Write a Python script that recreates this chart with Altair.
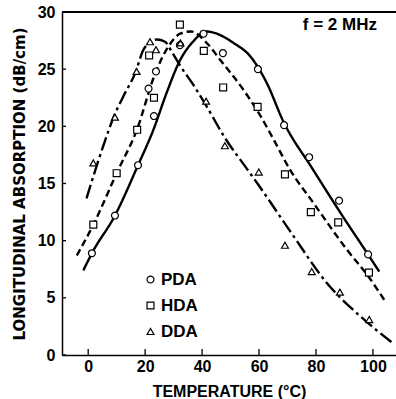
import altair as alt
import pandas as pd

# ---- data ----
series_names = ["PDA", "HDA", "DDA"]

pda_pt_x = [1.3, 9.4, 17.5, 23.1, 21.2, 23.8, 32.2, 40.5, 47.3, 59.6, 68.8, 77.6, 88.1, 98.3]
pda_pt_y = [8.9, 12.2, 16.6, 20.9, 23.3, 24.8, 27.1, 28.1, 26.4, 25.0, 20.1, 17.3, 13.5, 8.8]

hda_pt_x = [1.8, 10.0, 17.2, 23.1, 21.4, 32.2, 40.6, 47.4, 59.5, 69.1, 78.2, 87.8, 98.6]
hda_pt_y = [11.4, 15.9, 19.7, 22.5, 26.2, 28.9, 26.6, 23.4, 21.7, 15.8, 12.5, 11.6, 7.2]

dda_pt_x = [1.8, 9.4, 17.0, 21.7, 23.8, 32.4, 41.4, 48.0, 59.9, 69.1, 78.5, 88.4, 98.7]
dda_pt_y = [16.8, 20.8, 24.8, 27.4, 26.7, 27.3, 22.2, 18.3, 16.0, 9.6, 7.3, 5.5, 3.1]

pda_cv_x = [-1.7, 1.3, 9.4, 17.5, 22.9, 27.5, 32.3, 36.8, 41.5, 44, 51, 57, 62.7, 68.4, 79, 90, 97.2, 102.2]
pda_cv_y = [7.4, 8.9, 12.2, 16.6, 19.7, 22.9, 25.8, 27.4, 28.3, 28.2, 27.3, 26.1, 23.8, 20.5, 16.2, 11.9, 9.2, 7.3]

hda_cv_x = [-4.0, 1.8, 10, 17.1, 23.5, 28.2, 32.3, 36, 41.6, 46.4, 54.5, 60.3, 65, 70.9, 79.1, 90.9, 98.6, 104.3]
hda_cv_y = [8.7, 11.4, 15.9, 19.7, 24.6, 27.0, 28.1, 28.3, 27.3, 25.8, 23.2, 21.0, 18.9, 16.2, 13.3, 9.2, 6.8, 4.7]

dda_cv_x = [-0.6, 6, 8.9, 12.5, 16.4, 19.4, 22, 24.1, 27, 29.4, 32.3, 37, 41.7, 48, 55.7, 60, 72.1, 83.8, 95.5, 107.2]
dda_cv_y = [13.7, 18.8, 20.8, 22.7, 24.6, 26.7, 27.4, 27.6, 27.4, 26.5, 25.3, 23.6, 21.7, 19.0, 16.3, 14.8, 10.4, 6.3, 3.4, 1.0]

x_ticks = [0, 20, 40, 60, 80, 100]
y_ticks = [0, 5, 10, 15, 20, 25, 30]
annotation = "f = 2 MHz"

# ---- tables ----
pts = pd.concat([
    pd.DataFrame({"t": pda_pt_x, "a": pda_pt_y, "s": "PDA"}),
    pd.DataFrame({"t": hda_pt_x, "a": hda_pt_y, "s": "HDA"}),
    pd.DataFrame({"t": dda_pt_x, "a": dda_pt_y, "s": "DDA"}),
])
pts["u"] = pts["s"]
cvs = pd.concat([
    pd.DataFrame({"t": pda_cv_x, "a": pda_cv_y, "c": "PDA"}),
    pd.DataFrame({"t": hda_cv_x, "a": hda_cv_y, "c": "HDA"}),
    pd.DataFrame({"t": dda_cv_x, "a": dda_cv_y, "c": "DDA"}),
])
xt = pd.DataFrame({"v": x_ticks})
yt = pd.DataFrame({"v": y_ticks})

W, H = 334, 343
FONT = "Liberation Sans"

xs = alt.Scale(domain=[-9.2, 108.1], nice=False, zero=False)
ys = alt.Scale(domain=[0, 30], nice=False)
shape_scale = alt.Scale(domain=series_names, range=["circle", "square", "triangle-up"])

x_axis = alt.Axis(values=x_ticks, ticks=False, tickSize=0, grid=False, labelPadding=3,
                  labelFont=FONT, labelFontSize=16, labelFontWeight="bold", labelColor="black",
                  title="TEMPERATURE (°C)", titleFont=FONT, titleFontSize=16, titleFontWeight="bold",
                  titleColor="black", titlePadding=9, domainColor="black", domainWidth=1.5)
y_axis = alt.Axis(values=y_ticks, ticks=False, tickSize=0, grid=False, labelPadding=7,
                  labelFont=FONT, labelFontSize=16, labelFontWeight="bold", labelColor="black",
                  title="LONGITUDINAL ABSORPTION (dB/cm)", titleFont="DejaVu Sans", titleFontSize=15,
                  titleFontWeight="bold", titleColor="black", titlePadding=10,
                  domainColor="black", domainWidth=1.5)

lines = alt.Chart(cvs).mark_line(interpolate="monotone", color="black", strokeWidth=2.4).encode(
    x=alt.X("t:Q", scale=xs, axis=x_axis),
    y=alt.Y("a:Q", scale=ys, axis=y_axis),
    detail="c:N",
    strokeDash=alt.StrokeDash("c:N", scale=alt.Scale(domain=series_names,
                              range=[[1, 0], [7, 4], [14, 4, 3, 4]]), legend=None),
)

# white backing for hollow markers
backing = alt.Chart(pts).mark_point(filled=True, color="white", size=48, opacity=1).encode(
    x=alt.X("t:Q", scale=xs),
    y=alt.Y("a:Q", scale=ys),
    shape=alt.Shape("u:N", scale=shape_scale, legend=None),
)

points = alt.Chart(pts).mark_point(filled=False, color="black", strokeWidth=1.2,
                                   size=48, opacity=1).encode(
    x=alt.X("t:Q", scale=xs),
    y=alt.Y("a:Q", scale=ys),
    shape=alt.Shape("s:N", scale=shape_scale,
                    legend=alt.Legend(title=None, orient="none", legendX=80, legendY=259,
                                      labelFont=FONT, labelFontSize=17, labelFontWeight="bold",
                                      labelColor="black", symbolStrokeColor="black",
                                      symbolFillColor="white", symbolOpacity=1,
                                      symbolStrokeWidth=1.2, symbolSize=48,
                                      rowPadding=8, labelOffset=2, padding=0)),
)

xtick = alt.Chart(xt).mark_rule(color="black", strokeWidth=1.3).encode(
    x=alt.X("v:Q", scale=xs), y=alt.value(H), y2=alt.value(H - 6))
ytick = alt.Chart(yt).mark_rule(color="black", strokeWidth=1.3).encode(
    y=alt.Y("v:Q", scale=ys), x=alt.value(0), x2=alt.value(4))
topline = alt.Chart(xt).mark_rule(color="black", strokeWidth=1.5).encode(
    x=alt.value(0), x2=alt.value(W), y=alt.value(0))

label = alt.Chart(pd.DataFrame({"txt": [annotation]})).mark_text(
    font=FONT, fontSize=17, fontWeight="bold", color="black", align="center", baseline="middle"
).encode(x=alt.datum(88.4), y=alt.datum(28.9), text="txt:N")

chart = alt.layer(lines, backing, points, xtick, ytick, topline, label).resolve_legend(
    shape="independent", strokeDash="independent"
).properties(
    width=W, height=H,
    autosize=alt.AutoSizeParams(type="none"),
    padding={"left": 62, "top": 12, "right": 0, "bottom": 44},
    background="white",
).configure_view(stroke=None)

chart.save("out.html", embed_options={"renderer": "svg", "actions": False})
